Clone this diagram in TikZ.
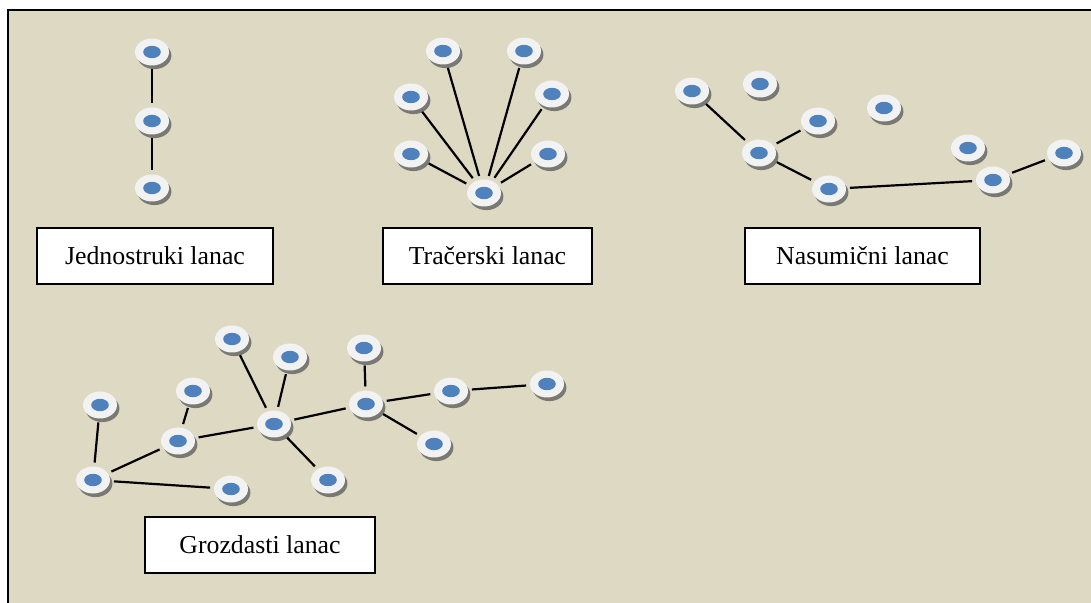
\documentclass[tikz,border=0pt]{standalone}
\usepackage{fontspec}
\setmainfont{Liberation Serif}
\usetikzlibrary{shapes.geometric,shadows}
\definecolor{bgcol}{RGB}{221,217,195}
\definecolor{dotblue}{RGB}{79,129,189}
\definecolor{discwhite}{RGB}{242,242,242}
\tikzset{
  disc/.style={ellipse, fill=discwhite, minimum width=17pt, minimum height=13.5pt,
    inner sep=0pt, outer sep=2pt,
    drop shadow={shadow xshift=1.2pt, shadow yshift=-1.8pt, fill=gray!75!black, opacity=0.8},
    path picture={\fill[dotblue] (path picture bounding box.center) ellipse (4.4pt and 3.1pt);}},
  link/.style={line width=1.1pt},
  namebox/.style={draw, line width=0.75pt, fill=white, minimum height=28pt,
    inner sep=0pt, font=\fontsize{12.9}{15}\selectfont}
}
\begin{document}
\begin{tikzpicture}[x=0.5pt,y=-0.5pt]
            \useasboundingbox (0,0) rectangle (1091,603);
            \fill[bgcol] (8,10) rectangle (1091,603);
            \draw[line width=1.4pt] (8,603) -- (8,10) -- (1091,10);
            % jednostruki
            \foreach \n/\x/\y in {j1/152/52, j2/152/121, j3/152/188}
                \node[disc] (\n) at (\x,\y) {};
            \draw[link] (j1) -- (j2);
            \draw[link] (j2) -- (j3);
            \node[namebox, minimum width=118pt] (lj) at (155,256) {Jednostruki lanac};
            % tracerski
            \node[disc] (t0) at (484,193) {};
            \foreach \n/\x/\y in {t1/443/51, t2/524/51, t3/411/97, t4/552/94, t5/411/154, t6/548/154} {
                \node[disc] (\n) at (\x,\y) {};
                \draw[link] (\n) -- (t0);
            }
            \node[namebox, minimum width=104.5pt] (lt) at (487.5,256) {Tračerski lanac};
            % nasumicni
            \foreach \n/\x/\y in {n1/692/91, n2/760/84, n3/818/121, n4/884/108, n5/759/153,
                                  n6/829/189, n7/968/148, n8/993/180, n9/1064/153}
                \node[disc] (\n) at (\x,\y) {};
            \foreach \a/\b in {n1/n5, n5/n3, n5/n6, n6/n8, n8/n9}
                \draw[link] (\a) -- (\b);
            \node[namebox, minimum width=117.5pt] (ln) at (862.5,256) {Nasumični lanac};
            % grozdasti
            \foreach \n/\x/\y in {g1/100/405, g2/93/480, g3/178/441, g4/193/391, g5/232/339,
                                  g6/290/357, g7/274/424, g8/231/489, g9/328/480, g10/364/348,
                                  g11/366/404, g12/451/391, g13/547/384, g14/434/444}
                \node[disc] (\n) at (\x,\y) {};
            \foreach \a/\b in {g1/g2, g2/g3, g2/g8, g3/g4, g3/g7, g7/g5, g7/g6, g7/g9,
                               g7/g11, g11/g10, g11/g12, g11/g14, g12/g13}
                \draw[link] (\a) -- (\b);
            \node[namebox, minimum width=115pt] (lg) at (260,545) {Grozdasti lanac};
        \end{tikzpicture}
\end{document}
